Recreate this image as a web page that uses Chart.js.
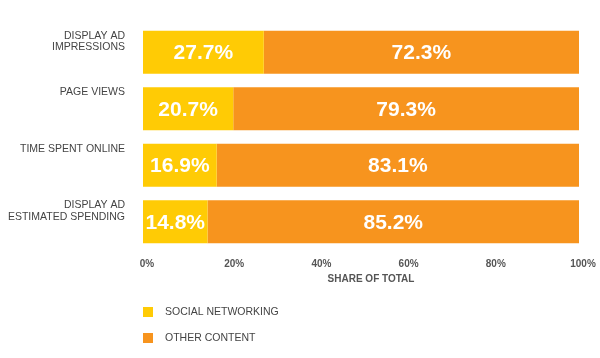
<!DOCTYPE html>
<html>
<head>
  <meta charset="UTF-8">
  <title>Share of total</title>
  <script src="https://cdn.jsdelivr.net/npm/chart.js"></script>
  <style>
    body { margin: 0; background: #fff; }
    canvas { display: block; }
  </style>
</head>
<body>
  <canvas id="chart" width="600" height="358"></canvas>

  <script>
    const categories = [
      ["DISPLAY AD", "IMPRESSIONS"],
      ["PAGE VIEWS"],
      ["TIME SPENT ONLINE"],
      ["DISPLAY AD", "ESTIMATED SPENDING"]
    ];
    const socialNetworking = [27.7, 20.7, 16.9, 14.8];
    const otherContent = [72.3, 79.3, 83.1, 85.2];
    const seriesNames = ["SOCIAL NETWORKING", "OTHER CONTENT"];
    const seriesColors = ["#FFCB05", "#F7941E"];
    const xTicks = [0, 20, 40, 60, 80, 100];
    const xTitle = "SHARE OF TOTAL";

    const textColor = "#444";
    const fontFamily = "'Liberation Sans', Arial, sans-serif";

    // value labels, category labels, axis title and legend
    const extras = {
      id: "extras",
      afterDatasetsDraw(chart) {
        const ctx = chart.ctx;
        ctx.save();

        // percentages inside the bars
        ctx.font = "bold 21px " + fontFamily;
        ctx.fillStyle = "#fff";
        ctx.textAlign = "center";
        ctx.textBaseline = "middle";
        chart.data.datasets.forEach((ds, di) => {
          chart.getDatasetMeta(di).data.forEach((bar, i) => {
            const cx = (bar.x + bar.base) / 2;
            ctx.fillText(ds.data[i].toFixed(1) + "%", cx, bar.y + 1);
          });
        });

        // category labels, top aligned with each bar
        ctx.font = "10.5px " + fontFamily;
        ctx.fillStyle = textColor;
        ctx.textAlign = "right";
        ctx.textBaseline = "middle";
        const first = chart.getDatasetMeta(0).data;
        first.forEach((bar, i) => {
          const top = bar.y - bar.height / 2;
          categories[i].forEach((line, li) => {
            ctx.fillText(line, chart.chartArea.left - 18, top + 5 + li * 11.7);
          });
        });

        // axis title
        const area = chart.chartArea;
        ctx.font = "bold 10px " + fontFamily;
        ctx.fillStyle = "#555";
        ctx.textAlign = "center";
        ctx.fillText(xTitle, (area.left + area.right) / 2 + 10, area.bottom + 29);

        // legend
        ctx.font = "10.5px " + fontFamily;
        ctx.textAlign = "left";
        seriesNames.forEach((name, i) => {
          const y = area.bottom + 62 + i * 26;
          ctx.fillStyle = seriesColors[i];
          ctx.fillRect(area.left, y - 5, 10, 10);
          ctx.fillStyle = textColor;
          ctx.fillText(name, area.left + 22, y);
        });

        ctx.restore();
      }
    };

    new Chart(document.getElementById("chart").getContext("2d"), {
      type: "bar",
      data: {
        labels: categories.map(c => c.join(" ")),
        datasets: [
          {
            label: seriesNames[0],
            data: socialNetworking,
            backgroundColor: seriesColors[0],
            categoryPercentage: 1,
            barPercentage: 0.76
          },
          {
            label: seriesNames[1],
            data: otherContent,
            backgroundColor: seriesColors[1],
            categoryPercentage: 1,
            barPercentage: 0.76
          }
        ]
      },
      options: {
        indexAxis: "y",
        responsive: false,
        animation: false,
        layout: {
          padding: { left: 143, right: 21, top: 24, bottom: 78 }
        },
        plugins: {
          legend: { display: false },
          tooltip: { enabled: false }
        },
        scales: {
          x: {
            stacked: true,
            min: 0,
            max: 100,
            afterBuildTicks: scale => {
              scale.ticks = xTicks.map(v => ({ value: v }));
            },
            afterFit: scale => { scale.height = 30; },
            grid: { display: false, drawTicks: false },
            border: { display: false },
            ticks: {
              padding: 8,
              labelOffset: 4,
              maxRotation: 0,
              color: "#555",
              font: { family: fontFamily, size: 10, weight: "bold" },
              callback: v => v + "%"
            }
          },
          y: {
            stacked: true,
            display: false
          }
        }
      },
      plugins: [extras]
    });
  </script>
</body>
</html>
